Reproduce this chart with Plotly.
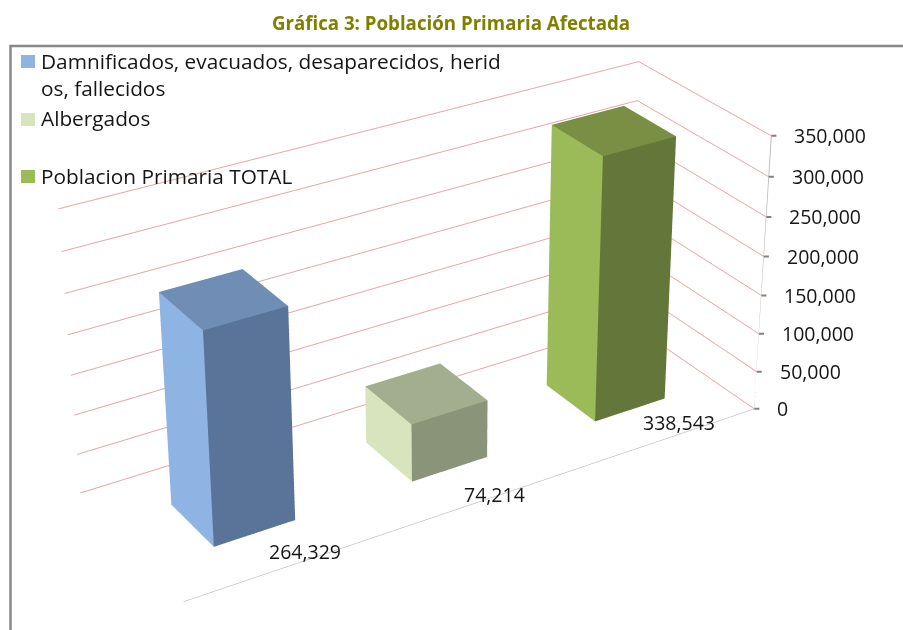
import plotly.graph_objects as go

categories = ["Damnificados, evacuados, desaparecidos, herid<br>os, fallecidos", "Albergados", "Poblacion Primaria TOTAL"]
values = [264329, 74214, 338543]
value_labels = ["264,329", "74,214", "338,543"]
face_colors = [["#8EB4E3", "#5A7398", "#6F8DB5"], ["#D7E4BD", "#8A9478", "#A3AE8E"], ["#9BBB59", "#64773A", "#788F44"]]
tick_vals = [0, 50000, 100000, 150000, 200000, 250000, 300000, 350000]
tick_text = ["0", "50,000", "100,000", "150,000", "200,000", "250,000", "300,000", "350,000"]
label_shift_x = [16, 8, 11]
label_shift_y = [15, 5, 15]
legend_y = [59, 116, 174]

xr, yr, zr = (-0.5, 2.5), (-0.5, 0.5), (0, 350000)
W, H = 903, 630
# The chart is drawn on a larger canvas, centred on the window: that weakens the
# fixed 45 degree perspective of the 3D scene to the mild one of the reference.
H2 = 2200
W2 = int(H2 * W / H)
ox, oy = (W2 - W) / 2, (H2 - H) / 2
eye = dict(x=-3.1714, y=-5.1613, z=3.2353)
center = dict(x=0.0566, y=-0.0353, z=-0.0017)
aspect = dict(x=1.7433, y=0.5858, z=0.8157)
bar_half_width, bar_half_depth = 0.2005, 0.1997

X = lambda v: (v + ox) / W2
Y = lambda v: 1 - (v + oy) / H2

fig = go.Figure()
for i, (name, v, cols) in enumerate(zip(categories, values, face_colors)):
    x0, x1 = i - bar_half_width, i + bar_half_width
    y0, y1 = -bar_half_depth, bar_half_depth
    xs = [x0, x1, x1, x0, x0, x1, x1, x0]
    ys = [y0, y0, y1, y1, y0, y0, y1, y1]
    zs = [0, 0, 0, 0, v, v, v, v]
    fig.add_trace(go.Mesh3d(x=xs, y=ys, z=zs, i=[0, 0, 0, 0, 4, 4], j=[3, 7, 1, 5, 5, 6], k=[7, 4, 5, 4, 6, 7],
                            facecolor=[cols[0], cols[0], cols[1], cols[1], cols[2], cols[2]], flatshading=True,
                            lighting=dict(ambient=1, diffuse=0, specular=0, fresnel=0),
                            name=name.replace("<br>", ""), showlegend=False, hoverinfo="skip"))

fig.add_trace(go.Scatter3d(x=[xr[1], xr[1]], y=[yr[0], yr[0]], z=[tick_vals[0], tick_vals[-1]], mode="lines",
                           line=dict(color="#BBBBBB", width=2), showlegend=False, hoverinfo="skip"))

tick_font = dict(family="Open Sans", size=19.5, color="#151515")
scene_annotations = []
for tv, tt in zip(tick_vals, tick_text):
    scene_annotations.append(dict(x=xr[1], y=yr[0], z=tv, text=" ", showarrow=True, arrowhead=0, arrowwidth=2, arrowcolor="#808080", ax=8, ay=0))
    scene_annotations.append(dict(x=xr[1], y=yr[0], z=tv, text=tt, showarrow=False, xanchor="left", yanchor="middle", xshift=21, font=tick_font))
for i, (t, sx, sy) in enumerate(zip(value_labels, label_shift_x, label_shift_y)):
    scene_annotations.append(dict(x=i, y=yr[0], z=0, text=t, showarrow=False, xanchor="center", yanchor="middle", xshift=sx, yshift=sy, font=tick_font))

annotations = []
shapes = [dict(type="rect", xref="paper", yref="paper", x0=X(10.5), x1=X(W + 10), y0=Y(H + 10), y1=Y(46), line=dict(color="#888", width=2.5))]
for name, ly, cols in zip(categories, legend_y, face_colors):
    annotations.append(dict(text=name, x=X(39), y=Y(ly - 14), xref="paper", yref="paper", showarrow=False, xanchor="left", yanchor="top", align="left",
                            font=dict(family="Open Sans", size=20.8, color="#151515")))
for ly, cols in zip([61, 119, 176], face_colors):
    shapes.append(dict(type="rect", xref="paper", yref="paper", x0=X(21), x1=X(35), y0=Y(ly + 7), y1=Y(ly - 6), fillcolor=cols[0], line=dict(width=0)))

fig.update_layout(
    width=W2, height=H2, margin=dict(l=0, r=0, t=0, b=0), paper_bgcolor="white", showlegend=False,
    title=dict(text="<b>Gráfica 3: Población Primaria Afectada</b>", x=X(451), xanchor="center", y=Y(23), yanchor="middle",
               font=dict(family="Open Sans", size=18.7, color="#808000")),
    annotations=annotations, shapes=shapes,
    scene=dict(
        domain=dict(x=[0, 1], y=[0, 1]),
        xaxis=dict(range=list(xr), showgrid=False, showticklabels=False, title="", showbackground=False, showline=True, linecolor="#A6A6A6", zeroline=False, showspikes=False),
        yaxis=dict(range=list(yr), showgrid=False, showticklabels=False, title="", showbackground=False, showline=False, zeroline=False, showspikes=False),
        zaxis=dict(range=list(zr), tickvals=tick_vals, showticklabels=False, gridcolor="#E6A5A5", title="", showbackground=False, showline=False, zeroline=False, showspikes=False),
        aspectmode="manual", aspectratio=aspect,
        camera=dict(eye=eye, center=center, up=dict(x=0, y=0, z=1)),
        annotations=scene_annotations,
    ),
)
post = f"""
document.documentElement.style.overflow='hidden';
document.body.style.margin='0';document.body.style.overflow='hidden';
var g=document.querySelector('.plotly-graph-div');
g.style.position='absolute';g.style.left='{-ox}px';g.style.top='{-oy}px';g.style.width='{W2}px';g.style.height='{H2}px';
"""
fig.write_html("out.html", post_script=post, config=dict(displayModeBar=False))
